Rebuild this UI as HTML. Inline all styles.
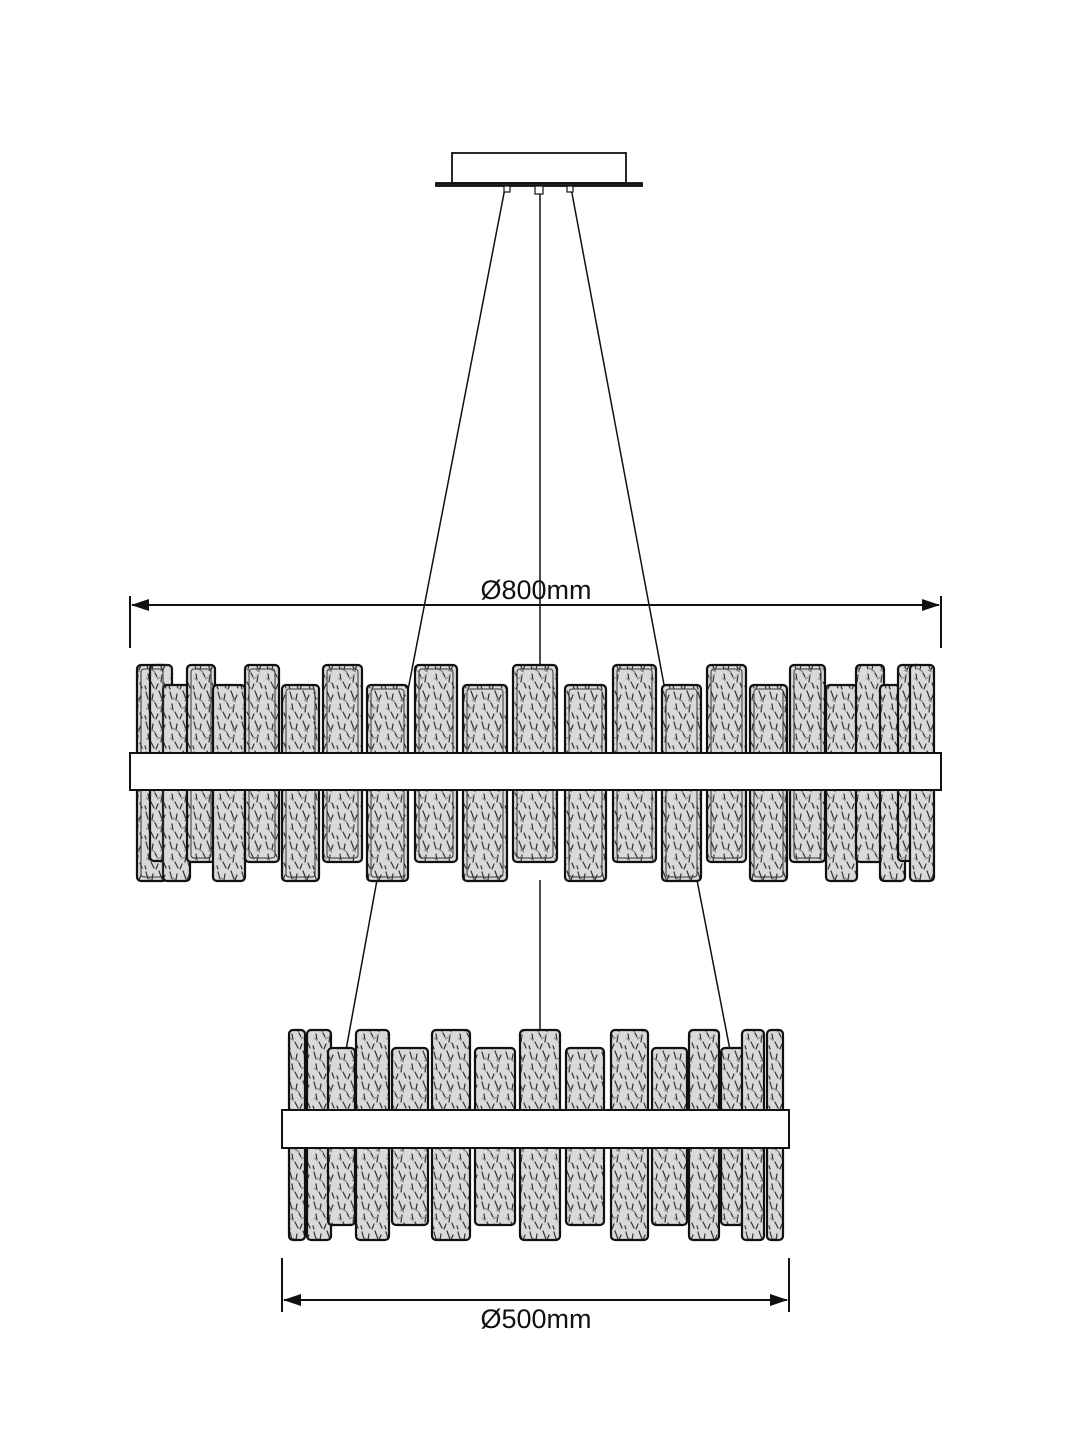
<!DOCTYPE html>
<html><head><meta charset="utf-8"><style>
html,body{margin:0;padding:0;background:#fff;}
svg{display:block;}
</style></head><body>
<svg width="1080" height="1440" viewBox="0 0 1080 1440" xmlns="http://www.w3.org/2000/svg">
<defs>
<pattern id="tex" width="24" height="30" patternUnits="userSpaceOnUse">
<rect width="24" height="30" fill="#d9d9d9"/>
<g stroke="#333" stroke-width="1.2" fill="none" stroke-linecap="round">
<path d="M2 2 l2 7"/><path d="M9 4 l-1 6"/><path d="M15 1 l3 8"/><path d="M21 5 l-2 5"/>
<path d="M4 14 l1 6"/><path d="M11 13 l2 4"/><path d="M18 15 l-1 7"/><path d="M7 22 l3 6"/>
<path d="M14 24 l-2 5"/><path d="M20 23 l2 5"/><path d="M1 26 l1 3"/>
</g>
<g stroke="#888" stroke-width="1.2" fill="none"><path d="M5 8 l6 4"/><path d="M13 19 l6 -3"/><path d="M2 18 l3 2"/><path d="M16 10 l4 2"/></g>
</pattern>
</defs>
<g stroke="#111" fill="none" stroke-width="1.8">
<rect x="452" y="153" width="174" height="30" fill="#fff"/>
<rect x="436" y="183" width="206" height="3" fill="#222"/>
<g stroke-width="1.5">
<line x1="505" y1="188" x2="408" y2="690"/>
<line x1="540" y1="188" x2="540" y2="665"/>
<line x1="571" y1="188" x2="665" y2="690"/>
<line x1="377" y1="880" x2="346" y2="1050"/>
<line x1="540" y1="880" x2="540" y2="1030"/>
<line x1="697" y1="880" x2="730" y2="1050"/>
</g>
<rect x="504" y="186" width="6" height="6" fill="#fff" stroke-width="1.2"/>
<rect x="535" y="186" width="8" height="8" fill="#fff" stroke-width="1.2"/>
<rect x="567" y="186" width="6" height="6" fill="#fff" stroke-width="1.2"/>
</g>
<g stroke="#111" stroke-width="2.2" fill="url(#tex)">
<rect x="137" y="665" width="30" height="216" rx="4"/>
<rect x="150" y="665" width="22" height="196" rx="4"/>
<rect x="163" y="685" width="27" height="196" rx="4"/>
<rect x="187" y="665" width="28" height="197" rx="4"/>
<rect x="213" y="685" width="32" height="196" rx="4"/>
<rect x="245" y="665" width="34" height="197" rx="4"/>
<rect x="282" y="685" width="37" height="196" rx="4"/>
<rect x="323" y="665" width="39" height="197" rx="4"/>
<rect x="367" y="685" width="41" height="196" rx="4"/>
<rect x="415" y="665" width="42" height="197" rx="4"/>
<rect x="463" y="685" width="44" height="196" rx="4"/>
<rect x="513" y="665" width="44" height="197" rx="4"/>
<rect x="565" y="685" width="41" height="196" rx="4"/>
<rect x="613" y="665" width="43" height="197" rx="4"/>
<rect x="662" y="685" width="39" height="196" rx="4"/>
<rect x="707" y="665" width="39" height="197" rx="4"/>
<rect x="750" y="685" width="37" height="196" rx="4"/>
<rect x="790" y="665" width="35" height="197" rx="4"/>
<rect x="826" y="685" width="31" height="196" rx="4"/>
<rect x="856" y="665" width="28" height="197" rx="4"/>
<rect x="880" y="685" width="25" height="196" rx="4"/>
<rect x="898" y="665" width="24" height="196" rx="4"/>
<rect x="910" y="665" width="24" height="216" rx="4"/>
</g>
<g stroke="#333" stroke-width="1" fill="none">
<rect x="141" y="669" width="22" height="208" rx="3"/>
<rect x="191" y="669" width="20" height="189" rx="3"/>
<rect x="249" y="669" width="26" height="189" rx="3"/>
<rect x="327" y="669" width="31" height="189" rx="3"/>
<rect x="419" y="669" width="34" height="189" rx="3"/>
<rect x="517" y="669" width="36" height="189" rx="3"/>
<rect x="617" y="669" width="35" height="189" rx="3"/>
<rect x="711" y="669" width="31" height="189" rx="3"/>
<rect x="794" y="669" width="27" height="189" rx="3"/>
<rect x="286" y="689" width="29" height="188" rx="3"/>
<rect x="371" y="689" width="33" height="188" rx="3"/>
<rect x="467" y="689" width="36" height="188" rx="3"/>
<rect x="569" y="689" width="33" height="188" rx="3"/>
<rect x="666" y="689" width="31" height="188" rx="3"/>
<rect x="754" y="689" width="29" height="188" rx="3"/>
</g>
<rect x="130" y="753" width="811" height="37" fill="#fff" stroke="#111" stroke-width="2"/>
<g stroke="#111" stroke-width="2.2" fill="url(#tex)">
<rect x="289" y="1030" width="16" height="210" rx="4"/>
<rect x="307" y="1030" width="24" height="210" rx="4"/>
<rect x="328" y="1048" width="27" height="177" rx="4"/>
<rect x="356" y="1030" width="33" height="210" rx="4"/>
<rect x="392" y="1048" width="36" height="177" rx="4"/>
<rect x="432" y="1030" width="38" height="210" rx="4"/>
<rect x="475" y="1048" width="40" height="177" rx="4"/>
<rect x="520" y="1030" width="40" height="210" rx="4"/>
<rect x="566" y="1048" width="38" height="177" rx="4"/>
<rect x="611" y="1030" width="37" height="210" rx="4"/>
<rect x="652" y="1048" width="35" height="177" rx="4"/>
<rect x="689" y="1030" width="30" height="210" rx="4"/>
<rect x="721" y="1048" width="24" height="177" rx="4"/>
<rect x="742" y="1030" width="22" height="210" rx="4"/>
<rect x="767" y="1030" width="16" height="210" rx="4"/>
</g>
<rect x="282" y="1110" width="507" height="38" fill="#fff" stroke="#111" stroke-width="2"/>
<g stroke="#111" stroke-width="2" fill="none">
<line x1="130" y1="596" x2="130" y2="648"/>
<line x1="941" y1="596" x2="941" y2="648"/>
<line x1="132" y1="605" x2="939" y2="605"/>
<line x1="282" y1="1258" x2="282" y2="1312"/>
<line x1="789" y1="1258" x2="789" y2="1312"/>
<line x1="284" y1="1300" x2="787" y2="1300"/>
</g>
<g fill="#111">
<path d="M131 605 l18 -6 v12z"/><path d="M940 605 l-18 -6 v12z"/>
<path d="M283 1300 l18 -6 v12z"/><path d="M788 1300 l-18 -6 v12z"/>
</g>
<g font-family="Liberation Sans, sans-serif" font-size="27" fill="#111" text-anchor="middle">
<text x="536" y="599">Ø800mm</text>
<text x="536" y="1328">Ø500mm</text>
</g>
</svg>
</body></html>
